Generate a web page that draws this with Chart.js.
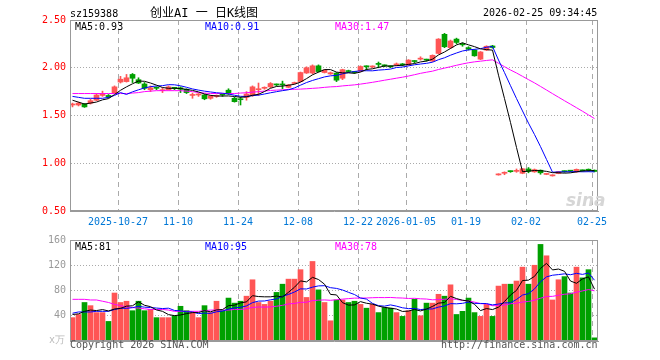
<!DOCTYPE html>
<html>
<head>
<meta charset="utf-8">
<script src="https://cdn.jsdelivr.net/npm/chart.js@4/dist/chart.umd.min.js"></script>
<style>
    html, body { margin: 0; padding: 0; background: #fff; overflow: hidden; }
    #wrap { position: relative; width: 660px; height: 360px; font-family: 'DejaVu Sans Mono', monospace; font-size: 10px; }
    canvas { position: absolute; left: 0; }
    .t { position: absolute; white-space: nowrap; line-height: 10px; z-index: 2; }
</style>
</head>
<body>
<div id="wrap">
    <canvas id="kline" width="660" height="232" style="top:0"></canvas>
    <canvas id="vol" width="660" height="130" style="top:230px"></canvas>

    <div class="t" style="left:70px;top:9px">sz159388</div>
    <div class="t" style="left:150px;top:7px;font-size:12px;line-height:12px;font-family:'DejaVu Sans Mono','Noto Sans CJK SC',monospace">创业AI 一 日K线图</div>
    <div class="t" style="left:483px;top:8px">2026-02-25 09:34:45</div>

    <div class="t" style="left:75px;top:22px;color:#000">MA5:0.93</div>
    <div class="t" style="left:205px;top:22px;color:#00f">MA10:0.91</div>
    <div class="t" style="left:335px;top:22px;color:#f0f">MA30:1.47</div>

    <div class="t" style="left:566px;top:190px;font:italic bold 17px 'DejaVu Sans',sans-serif;color:#d6d6d6">sina</div>

    <div class="t" style="left:75px;top:242px;color:#000">MA5:81</div>
    <div class="t" style="left:205px;top:242px;color:#00f">MA10:95</div>
    <div class="t" style="left:335px;top:242px;color:#f0f">MA30:78</div>

    <div class="t" style="left:49px;top:335px;color:#bbb">x万</div>
    <div class="t" style="left:70px;top:340px;color:#555">Copyright 2026 SINA.COM</div>
    <div class="t" style="left:441px;top:340px;color:#555">http://finance.sina.com.cn</div>
</div>

<script>
// дневные свечи, 88 торговых дней (2025-10-15 .. 2026-02-25)
const opens = [
    1.610, 1.610, 1.620, 1.630, 1.660, 1.710, 1.710, 1.735, 1.850, 1.855,
    1.930, 1.875, 1.830, 1.770, 1.790, 1.760, 1.770, 1.790, 1.790, 1.775,
    1.710, 1.715, 1.715, 1.680, 1.700, 1.720, 1.765, 1.680, 1.670, 1.690,
    1.710, 1.770, 1.785, 1.800, 1.825, 1.825, 1.795, 1.835, 1.855, 1.945,
    1.945, 2.020, 1.950, 1.935, 1.944, 1.890, 1.965, 1.955, 1.965, 2.015,
    2.008, 2.040, 2.025, 2.015, 2.030, 2.035, 2.030, 2.070, 2.090, 2.085,
    2.070, 2.150, 2.350, 2.210, 2.300, 2.245, 2.210, 2.185, 2.090, 2.185,
    2.228, 0.878, 0.895, 0.915, 0.915, 0.895, 0.940, 0.910, 0.927, 0.883,
    0.868, 0.893, 0.915, 0.920, 0.910, 0.924, 0.930, 0.927
];
const highs = [
    1.630, 1.640, 1.625, 1.670, 1.730, 1.755, 1.720, 1.810, 1.910, 1.930,
    1.940, 1.895, 1.845, 1.810, 1.800, 1.790, 1.810, 1.795, 1.800, 1.780,
    1.735, 1.730, 1.720, 1.710, 1.715, 1.725, 1.780, 1.690, 1.690, 1.750,
    1.810, 1.840, 1.800, 1.845, 1.830, 1.860, 1.825, 1.850, 1.955, 2.010,
    2.030, 2.030, 1.980, 1.955, 1.950, 1.985, 1.975, 1.960, 2.020, 2.020,
    2.020, 2.060, 2.030, 2.020, 2.050, 2.045, 2.085, 2.075, 2.115, 2.090,
    2.135, 2.305, 2.360, 2.290, 2.310, 2.260, 2.220, 2.190, 2.170, 2.230,
    2.235, 0.890, 0.910, 0.920, 0.940, 0.945, 0.955, 0.940, 0.930, 0.895,
    0.880, 0.915, 0.920, 0.925, 0.940, 0.930, 0.940, 0.930
];
const lows = [
    1.590, 1.600, 1.585, 1.620, 1.655, 1.700, 1.685, 1.730, 1.840, 1.850,
    1.845, 1.835, 1.770, 1.750, 1.770, 1.740, 1.765, 1.770, 1.740, 1.730,
    1.680, 1.700, 1.665, 1.670, 1.690, 1.700, 1.720, 1.640, 1.610, 1.660,
    1.700, 1.710, 1.775, 1.790, 1.810, 1.780, 1.790, 1.830, 1.850, 1.940,
    1.935, 1.955, 1.945, 1.930, 1.855, 1.875, 1.950, 1.940, 1.960, 1.975,
    2.000, 2.000, 2.010, 2.000, 2.020, 2.020, 2.025, 2.050, 2.080, 2.070,
    2.065, 2.145, 2.210, 2.200, 2.250, 2.225, 2.185, 2.120, 2.085, 2.180,
    2.205, 0.875, 0.880, 0.905, 0.905, 0.890, 0.900, 0.905, 0.885, 0.880,
    0.865, 0.890, 0.905, 0.910, 0.905, 0.915, 0.915, 0.910
];
const closes = [
    1.615, 1.630, 1.590, 1.655, 1.715, 1.730, 1.695, 1.800, 1.880, 1.895,
    1.890, 1.840, 1.785, 1.790, 1.785, 1.765, 1.800, 1.785, 1.775, 1.740,
    1.715, 1.720, 1.675, 1.705, 1.705, 1.715, 1.725, 1.645, 1.665, 1.725,
    1.800, 1.775, 1.790, 1.835, 1.820, 1.820, 1.820, 1.840, 1.950, 2.000,
    2.020, 1.960, 1.975, 1.948, 1.870, 1.980, 1.960, 1.950, 2.013, 2.010,
    2.012, 2.035, 2.020, 2.010, 2.035, 2.030, 2.080, 2.065, 2.095, 2.080,
    2.130, 2.300, 2.220, 2.280, 2.265, 2.240, 2.195, 2.125, 2.165, 2.225,
    2.212, 0.882, 0.900, 0.912, 0.920, 0.942, 0.915, 0.933, 0.900, 0.886,
    0.872, 0.912, 0.912, 0.917, 0.936, 0.921, 0.927, 0.914
];
// объём, x万
const volume = [
    37, 42, 61, 56, 45, 45, 31, 76, 61, 63,
    48, 63, 48, 50, 37, 37, 37, 40, 55, 48,
    45, 37, 56, 45, 63, 48, 68, 60, 63, 71,
    97, 61, 58, 63, 77, 90, 98, 98, 113, 69,
    126, 81, 61, 32, 65, 65, 61, 63, 58, 52,
    58, 45, 53, 52, 45, 39, 48, 66, 40, 60,
    60, 74, 71, 89, 42, 47, 68, 45, 39, 58,
    39, 87, 90, 90, 95, 117, 90, 120, 153, 135,
    65, 97, 102, 76, 117, 100, 113, 5
];

// начальные значения MA (окно уходит левее видимых данных)
const ma5Head = [1.66, 1.64, 1.62, 1.63];
const ma10Head = [1.70, 1.69, 1.68, 1.68, 1.68, 1.68, 1.69, 1.71, 1.74];
const ma30Head = [
    1.73, 1.73, 1.73, 1.73, 1.73, 1.73, 1.73, 1.73, 1.73, 1.73, 1.735, 1.74,
    1.75, 1.755, 1.76, 1.76, 1.76, 1.76, 1.76, 1.755, 1.75,
    1.74, 1.735, 1.73, 1.73, 1.73, 1.73, 1.73, 1.735
];
const volMa5Head = [42, 43, 47, 49];
const volMa10Head = [44, 46, 46, 46, 47, 47, 47, 50, 52];
const volMa30Head = [
    66, 66, 66, 65, 65, 63, 61, 58, 56, 54, 53, 52, 51, 50, 50,
    50, 49, 47, 47, 47, 47, 47, 48, 49, 49, 49, 49, 50, 50
];

// подписи по оси X: индекс дня -> дата
const tickIdx = [8, 18, 28, 38, 48, 56, 66, 76, 87];
const tickLabels = ['2025-10-27', '11-10', '11-24', '12-08', '12-22', '2026-01-05', '01-19', '02-02', '02-25'];

const upColor = '#ff5555';
const downColor = '#00a000';

Chart.defaults.font.family = "'DejaVu Sans Mono', monospace";
Chart.defaults.font.size = 10;

function movingAvg(values, n, head) {
    return values.map((v, i) => {
        if (i < n - 1) return head[i];
        let s = 0;
        for (let k = i - n + 1; k <= i; k++) s += values[k];
        return s / n;
    });
}

// центр слота дня (сдвиг на полпикселя, чтобы тени в 1px были чёткими)
const xOf = i => i + 5 / 12;
const colors = closes.map((c, i) => c >= opens[i] ? upColor : downColor);
const pts = arr => arr.map((y, i) => ({x: xOf(i), y}));

// рамка вокруг области графика
const frame = {
    id: 'frame',
    afterDatasetsDraw(chart) {
        const a = chart.chartArea, ctx = chart.ctx;
        ctx.save();
        ctx.strokeStyle = '#999';
        ctx.lineWidth = 1;
        ctx.strokeRect(a.left + 0.5, a.top + 0.5, a.right - a.left - 1, a.bottom - a.top - 1);
        ctx.restore();
    }
};

const lineDs = (data, color) => ({
    type: 'line', data: pts(data), borderColor: color, borderWidth: 1,
    pointRadius: 0, tension: 0, order: 0
});

const xScale = (showLabels) => ({
    type: 'linear', min: 0, max: 88, offset: false,
    afterBuildTicks: axis => { axis.ticks = tickIdx.map(value => ({value})); },
    afterFit: axis => { axis.height = showLabels ? 21 : 0; },
    ticks: {
        display: showLabels, autoSkip: false, maxRotation: 0, padding: 5,
        color: '#0078d7', callback: (v, i) => tickLabels[i]
    },
    grid: {color: '#aaa', drawTicks: false, offset: false},
    border: {color: '#999', dash: [5, 4]}
});

new Chart(document.getElementById('kline'), {
    type: 'bar',
    data: {
        datasets: [
            lineDs(movingAvg(closes, 5, ma5Head), '#000'),
            lineDs(movingAvg(closes, 10, ma10Head), '#00f'),
            lineDs(movingAvg(closes, 30, ma30Head), '#f0f'),
            {
                type: 'bar', data: lows.map((l, i) => ({x: xOf(i), y: [l, highs[i]]})),
                backgroundColor: colors, barThickness: 1, grouped: false, order: 2
            },
            {
                type: 'bar', data: opens.map((o, i) => ({x: xOf(i), y: [o, closes[i]]})),
                backgroundColor: colors, barThickness: 5, minBarLength: 1, grouped: false, order: 1
            }
        ]
    },
    options: {
        responsive: false, animation: false, events: [],
        layout: {padding: {top: 20, right: 62, left: 0, bottom: 0}},
        plugins: {legend: {display: false}, tooltip: {enabled: false}},
        scales: {
            x: xScale(true),
            y: {
                min: 0.5, max: 2.5,
                afterFit: axis => { axis.width = 70; },
                ticks: {stepSize: 0.5, color: '#f00', padding: 4, callback: v => v.toFixed(2)},
                grid: {color: '#aaa', drawTicks: false},
                border: {color: '#999', dash: [1, 2]}
            }
        }
    },
    plugins: [frame]
});

new Chart(document.getElementById('vol'), {
    type: 'bar',
    data: {
        datasets: [
            lineDs(movingAvg(volume, 5, volMa5Head), '#000'),
            lineDs(movingAvg(volume, 10, volMa10Head), '#00f'),
            lineDs(movingAvg(volume, 30, volMa30Head), '#f0f'),
            {
                type: 'bar', data: pts(volume),
                backgroundColor: colors, barThickness: 5, grouped: false, order: 1
            }
        ]
    },
    options: {
        responsive: false, animation: false, events: [],
        layout: {padding: {top: 10, right: 62, left: 0, bottom: 19}},
        plugins: {legend: {display: false}, tooltip: {enabled: false}},
        scales: {
            x: xScale(false),
            y: {
                min: 0, max: 160,
                afterFit: axis => { axis.width = 70; },
                ticks: {stepSize: 40, color: '#999', padding: 4, callback: v => v === 0 ? '' : v},
                grid: {color: '#aaa', drawTicks: false},
                border: {color: '#999', dash: [1, 2]}
            }
        }
    },
    plugins: [frame]
});
</script>
</body>
</html>
